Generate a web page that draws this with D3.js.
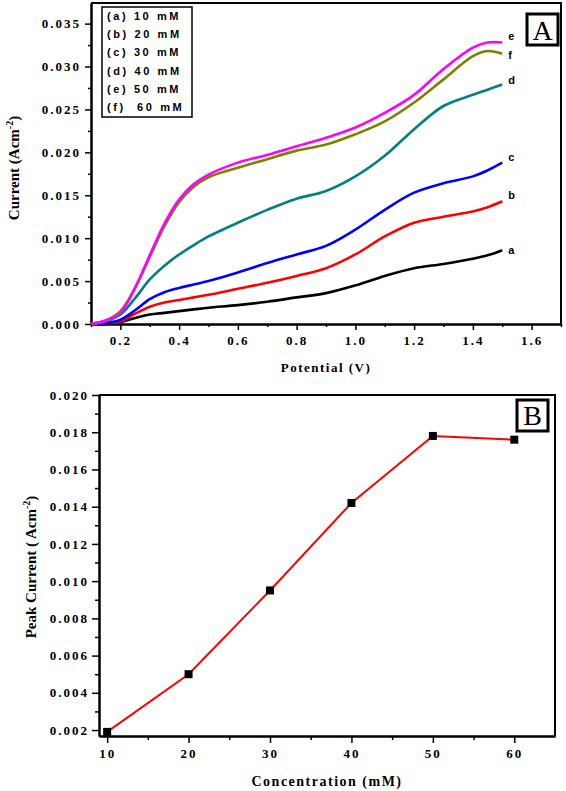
<!DOCTYPE html>
<html><head><meta charset="utf-8">
<script src="https://cdnjs.cloudflare.com/ajax/libs/d3/7.8.5/d3.min.js"></script>
<style>
body{margin:0;background:#fff;}
svg{display:block;}
</style></head>
<body><svg id="c" width="566" height="791"></svg>
<script>
// ---------- Panel A data ----------
const potential = [0.10,0.15,0.20,0.25,0.30,0.35,0.40,0.45,0.50,0.60,0.70,0.80,0.90,1.00,1.10,1.20,1.30,1.40,1.45,1.50];
const curveA = [0,0.0000,0.0002,0.0007,0.0011,0.0013,0.0015,0.0017,0.0019,0.0022,0.0026,0.0031,0.0036,0.0045,0.0056,0.0065,0.0070,0.0076,0.0080,0.0086];
const curveB = [0,0.0001,0.0003,0.0012,0.0020,0.0025,0.0028,0.0031,0.0034,0.0041,0.0048,0.0056,0.0065,0.0081,0.0102,0.0118,0.0125,0.0131,0.0136,0.0143];
const curveC = [0,0.0001,0.0005,0.0016,0.0029,0.0037,0.0042,0.0046,0.0050,0.0060,0.0071,0.0081,0.0091,0.0110,0.0133,0.0153,0.0164,0.0172,0.0179,0.0188];
const curveD = [0,0.0003,0.0011,0.0030,0.0052,0.0068,0.0081,0.0092,0.0102,0.0118,0.0133,0.0146,0.0155,0.0172,0.0196,0.0227,0.0254,0.0267,0.0273,0.0279];
const curveE = [0,0.0004,0.0013,0.0042,0.0080,0.0117,0.0145,0.0163,0.0174,0.0188,0.0197,0.0207,0.0217,0.0229,0.0246,0.0267,0.0297,0.0322,0.0328,0.0328];
const curveF = [0,0.0004,0.0015,0.0042,0.0078,0.0114,0.0142,0.0160,0.0171,0.0182,0.0192,0.0202,0.0209,0.0221,0.0236,0.0258,0.0285,0.0312,0.0318,0.0315];
const curveLetters = ["a","b","c","d","e","f"];
const legendLabels = ["(a) 10 mM","(b) 20 mM","(c) 30 mM","(d) 40 mM","(e) 50 mM","(f)  60 mM"];
const xTicksA = [0.2,0.4,0.6,0.8,1.0,1.2,1.4,1.6];
const yTicksA = [0,0.005,0.010,0.015,0.020,0.025,0.030,0.035];

// ---------- Panel B data ----------
const concentration = [10,20,30,40,50,60];
const peakCurrent = [0.0019,0.0050,0.0095,0.0142,0.0178,0.0176];
const xTicksB = [10,20,30,40,50,60];
const yTicksB = [0.002,0.004,0.006,0.008,0.010,0.012,0.014,0.016,0.018,0.020];

// ---------- styles ----------
const colors = {a:"#000000",b:"#ff0000",c:"#0000ff",d:"#008080",e:"#ff00ff",f:"#808000"};
const labelDy = {a:1,b:-5,c:-5,d:-3,e:-5,f:2};

const svg = d3.select("#c");
const serif = '"Liberation Serif","Times New Roman",serif';
const sans = '"Liberation Sans",Arial,sans-serif';

function axisStyle(g){
  g.attr("font-family",serif).attr("font-size",13).attr("font-weight","bold");
  g.select(".domain").attr("stroke","#000").attr("stroke-width",2);
  g.selectAll(".tick line").attr("stroke","#000").attr("stroke-width",1.5);
  g.selectAll(".tick text").attr("fill","#000").attr("letter-spacing","2px");
}

// ===== Panel A =====
const xA = d3.scaleLinear().domain([0.1,1.7]).range([91,561]);
const yA = d3.scaleLinear().domain([0,0.0374]).range([324,3]);

const minorXA = d3.range(0.1,1.701,0.1).filter(v=>!xTicksA.some(t=>Math.abs(t-v)<1e-6));
const minorYA = d3.range(0.0025,0.0374,0.005);

svg.append("g").attr("transform","translate(0,324)")
  .call(d3.axisBottom(xA).tickValues(minorXA).tickSize(3).tickFormat("").tickSizeOuter(0)).call(axisStyle);
svg.append("g").attr("transform","translate(91,0)")
  .call(d3.axisLeft(yA).tickValues(minorYA).tickSize(3).tickFormat("").tickSizeOuter(0)).call(axisStyle);
svg.append("g").attr("transform","translate(0,324)")
  .call(d3.axisBottom(xA).tickValues(xTicksA).tickSize(6).tickPadding(6).tickFormat(d3.format(".1f")).tickSizeOuter(0)).call(axisStyle);
svg.append("g").attr("transform","translate(91,0)")
  .call(d3.axisLeft(yA).tickValues(yTicksA).tickSize(6).tickPadding(4).tickFormat(d3.format(".3f")).tickSizeOuter(0)).call(axisStyle);
// frame
svg.append("path").attr("d",`M91,3H561V324`).attr("fill","none").attr("stroke","#000").attr("stroke-width",2);

const seriesA = [curveA,curveB,curveC,curveD,curveE,curveF];
const lineA = d3.line().x((d,i)=>xA(potential[i])).y(d=>yA(d)).curve(d3.curveCatmullRom.alpha(0.5));
const drawOrder = [0,1,2,3,5,4];
drawOrder.forEach(k=>{
  svg.append("path").datum(seriesA[k]).attr("d",lineA)
    .attr("fill","none").attr("stroke",colors[curveLetters[k]]).attr("stroke-width",2.6).attr("stroke-linejoin","round");
});
seriesA.forEach((s,k)=>{
  const L = curveLetters[k];
  svg.append("text").attr("x",xA(potential[potential.length-1])+6).attr("y",yA(s[s.length-1])+labelDy[L])
    .attr("dominant-baseline","middle").attr("font-family",sans).attr("font-weight","bold").attr("font-size",11)
    .text(L);
});

// legend
svg.append("rect").attr("x",102).attr("y",7).attr("width",90).attr("height",110)
  .attr("fill","#fff").attr("stroke","#000").attr("stroke-width",1.5);
legendLabels.forEach((t,i)=>{
  svg.append("text").attr("x",107).attr("y",17+i*18.2).attr("dominant-baseline","middle")
    .attr("font-family",sans).attr("font-weight","bold").attr("font-size",11).attr("letter-spacing","2.6px")
    .attr("xml:space","preserve").style("white-space","pre").text(t);
});
// A badge
svg.append("rect").attr("x",527).attr("y",14).attr("width",31).attr("height",31)
  .attr("fill","#fff").attr("stroke","#000").attr("stroke-width",3);
svg.append("text").attr("x",542.5).attr("y",40).attr("text-anchor","middle")
  .attr("font-family",serif).attr("font-size",28).text("A");

// axis titles A
const ytA = svg.append("text").attr("transform","translate(19,168) rotate(-90)").attr("text-anchor","middle")
  .attr("font-family",serif).attr("font-weight","bold").attr("font-size",15);
ytA.append("tspan").text("Current (Acm");
ytA.append("tspan").attr("dy",-6).attr("font-size",10).text("-2");
ytA.append("tspan").attr("dy",6).text(")");
svg.append("text").attr("x",326).attr("y",372).attr("text-anchor","middle")
  .attr("font-family",serif).attr("font-weight","bold").attr("font-size",13).attr("letter-spacing","1.5px")
  .text("Potential (V)");

// ===== Panel B =====
const xB = d3.scaleLinear().domain([9,65]).range([99,555]);
const yB = d3.scaleLinear().domain([0.00168,0.020]).range([736,395]);
const minorXB = [15,25,35,45,55];
const minorYB = d3.range(0.003,0.0201,0.002);

svg.append("g").attr("transform","translate(0,736)")
  .call(d3.axisBottom(xB).tickValues(minorXB).tickSize(4).tickFormat("").tickSizeOuter(0)).call(axisStyle);
svg.append("g").attr("transform","translate(99,0)")
  .call(d3.axisLeft(yB).tickValues(minorYB).tickSize(4).tickFormat("").tickSizeOuter(0)).call(axisStyle);
svg.append("g").attr("transform","translate(0,736)")
  .call(d3.axisBottom(xB).tickValues(xTicksB).tickSize(7).tickPadding(6).tickFormat(d3.format("d")).tickSizeOuter(0)).call(axisStyle);
svg.append("g").attr("transform","translate(99,0)")
  .call(d3.axisLeft(yB).tickValues(yTicksB).tickSize(7).tickPadding(3).tickFormat(d3.format(".3f")).tickSizeOuter(0)).call(axisStyle);
svg.append("path").attr("d",`M99,395H555V736`).attr("fill","none").attr("stroke","#000").attr("stroke-width",2);

const lineB = d3.line().x((d,i)=>xB(concentration[i])).y(d=>yB(d));
svg.append("path").datum(peakCurrent).attr("d",lineB).attr("fill","none").attr("stroke","#ff0000").attr("stroke-width",2);
svg.selectAll("rect.pt").data(peakCurrent).enter().append("rect").attr("class","pt")
  .attr("x",(d,i)=>xB(concentration[i])-4).attr("y",d=>yB(d)-4).attr("width",8).attr("height",8).attr("fill","#000");

svg.append("rect").attr("x",517).attr("y",400).attr("width",31).attr("height",31)
  .attr("fill","#fff").attr("stroke","#000").attr("stroke-width",3);
svg.append("text").attr("x",532.5).attr("y",425).attr("text-anchor","middle")
  .attr("font-family",serif).attr("font-size",28).text("B");

const ytB = svg.append("text").attr("transform","translate(36,567) rotate(-90)").attr("text-anchor","middle")
  .attr("font-family",serif).attr("font-weight","bold").attr("font-size",15);
ytB.append("tspan").text("Peak Current ( Acm");
ytB.append("tspan").attr("dy",-6).attr("font-size",10).text("-2");
ytB.append("tspan").attr("dy",6).text(")");
svg.append("text").attr("x",327).attr("y",786).attr("text-anchor","middle")
  .attr("font-family",serif).attr("font-weight","bold").attr("font-size",14).attr("letter-spacing","1.5px")
  .text("Concentration (mM)");
</script></body></html>
